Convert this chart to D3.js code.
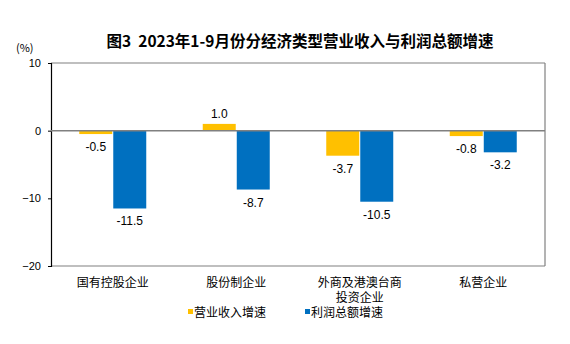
<!DOCTYPE html>
<html><head><meta charset="utf-8">
<script src="https://cdn.jsdelivr.net/npm/d3@7"></script>
<style>body{margin:0;background:#fff}svg{display:block}text{font-family:"Noto Sans CJK SC","Liberation Sans",sans-serif}</style>
</head><body><svg id="c" width="570" height="344"></svg>
<script>
const categories = ["国有控股企业","股份制企业","外商及港澳台商投资企业","私营企业"];
const categoryLines = [["国有控股企业"],["股份制企业"],["外商及港澳台商","投资企业"],["私营企业"]];
const seriesNames = ["营业收入增速","利润总额增速"];
const revenue = [-0.5, 1.0, -3.7, -0.8];
const profit = [-11.5, -8.7, -10.5, -3.2];
const yTicks = [10, 0, -10, -20];
const colors = ["#FFC000","#0070C0"];

const svg = d3.select("#c");
const L=51, R=545, T=63, B=266;
const y = d3.scaleLinear().domain([-20,10]).range([B,T]);
const x = d3.scaleBand().domain(categories).range([L,R]);
const sub = d3.scaleBand().domain([0,1]).range([0,67]).paddingInner(0.03);
const latinFirst = "'Liberation Sans','Noto Sans CJK SC',sans-serif";

svg.append("text").attr("x",300).attr("y",47).attr("text-anchor","middle")
  .attr("font-size",15.5).attr("font-weight","bold").attr("fill","#000")
  .attr("xml:space","preserve").style("white-space","pre")
  .text("图3  2023年1-9月份分经济类型营业收入与利润总额增速");
svg.append("text").attr("x",16).attr("y",52).attr("font-size",11).attr("fill","#000").text("(%)");

// frame
svg.append("line").attr("x1",L).attr("x2",R).attr("y1",T).attr("y2",T).attr("stroke","#808080").attr("stroke-width",1.2);
svg.append("line").attr("x1",R).attr("x2",R).attr("y1",T).attr("y2",B).attr("stroke","#808080").attr("stroke-width",1.2);
svg.append("line").attr("x1",L).attr("x2",R).attr("y1",B).attr("y2",B).attr("stroke","#808080").attr("stroke-width",1.2);

const ax = svg.append("g").attr("transform",`translate(${L},0)`)
  .call(d3.axisLeft(y).tickValues(yTicks).tickSize(3).tickPadding(7).tickFormat(d3.format("d")));
ax.select(".domain").attr("stroke","#000").attr("stroke-width",1.2);
ax.selectAll(".tick line").attr("stroke","#000");
ax.selectAll("text").attr("font-size",11).attr("fill","#000").style("font-family","'Liberation Sans',sans-serif");

const series = [revenue, profit];
series.forEach((vals,si)=>{
  const g = svg.append("g");
  g.selectAll("rect").data(vals).join("rect")
    .attr("x",(d,i)=>x(categories[i])+x.bandwidth()/2-33.5+sub(si))
    .attr("width",sub.bandwidth())
    .attr("y",d=>y(Math.max(0,d)))
    .attr("height",d=>Math.abs(y(d)-y(0)))
    .attr("fill",colors[si]);
  g.selectAll("text").data(vals).join("text")
    .attr("x",(d,i)=>x(categories[i])+x.bandwidth()/2-33.5+sub(si)+sub.bandwidth()/2)
    .attr("y",d=> d>=0 ? y(d)-6 : y(d)+17)
    .attr("text-anchor","middle").attr("font-size",12).attr("fill","#000")
    .style("font-family","'Liberation Sans',sans-serif")
    .text(d=>d.toFixed(1));
});

// zero line
svg.append("line").attr("x1",L).attr("x2",R).attr("y1",y(0)).attr("y2",y(0)).attr("stroke","#808080").attr("stroke-width",1.5);

// category labels
categoryLines.forEach((lines,i)=>{
  lines.forEach((ln,j)=>svg.append("text").attr("text-anchor","middle").attr("font-size",12).attr("fill","#000")
    .style("font-family",latinFirst)
    .attr("x",x(categories[i])+x.bandwidth()/2).attr("y",287+j*15).text(ln));
});

// legend
const lx=[188,305];
seriesNames.forEach((n,i)=>{
  svg.append("rect").attr("x",lx[i]).attr("y",309).attr("width",5).attr("height",5).attr("fill",colors[i]);
  svg.append("text").attr("x",lx[i]+6).attr("y",316.5).attr("font-size",12).attr("fill","#000")
    .style("font-family",latinFirst).text(n);
});
</script></body></html>
